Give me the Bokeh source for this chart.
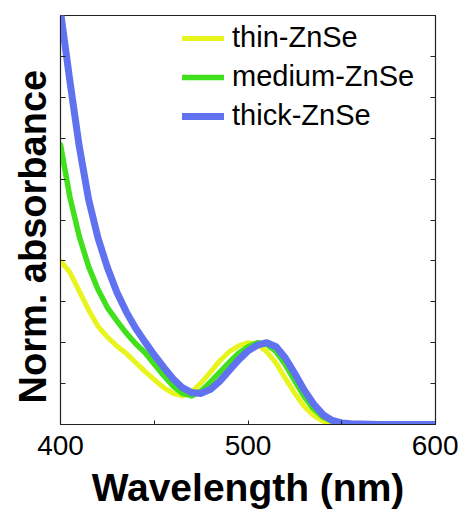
from bokeh.plotting import figure
from bokeh.models import LinearAxis, FixedTicker, Range1d, Legend, LegendItem, Title
from bokeh.embed import file_html
from bokeh.resources import INLINE

wavelength = [400, 405, 410, 415, 420, 425, 430, 435, 440, 445, 450, 455, 460, 465,
              470, 475, 480, 485, 490, 495, 500, 505, 510, 515, 520, 525, 530, 535,
              540, 545, 550, 555, 560, 570, 580, 590, 600]

thin = [2.00, 1.86, 1.63, 1.40, 1.20, 1.07, 0.96, 0.87, 0.76, 0.65, 0.55, 0.45, 0.38, 0.35,
        0.40, 0.51, 0.64, 0.78, 0.89, 0.96, 1.00, 0.98, 0.89, 0.75, 0.56, 0.38, 0.22, 0.11,
        0.04, 0.01, 0.0, 0.0, 0.0, 0.0, 0.0, 0.0, 0.0]

medium = [3.42, 2.78, 2.30, 1.93, 1.65, 1.43, 1.27, 1.12, 0.99, 0.88, 0.74, 0.60, 0.47, 0.38,
          0.35, 0.41, 0.52, 0.64, 0.76, 0.87, 0.95, 1.00, 0.98, 0.89, 0.73, 0.53, 0.34, 0.19,
          0.09, 0.035, 0.01, 0.0, 0.0, 0.0, 0.0, 0.0, 0.0]

thick = [5.05, 4.20, 3.40, 2.75, 2.28, 1.92, 1.62, 1.38, 1.18, 1.01, 0.85, 0.70, 0.56, 0.45,
         0.39, 0.38, 0.43, 0.53, 0.66, 0.79, 0.90, 0.97, 1.00, 0.95, 0.81, 0.62, 0.42, 0.25,
         0.12, 0.05, 0.02, 0.01, 0.005, 0.0, 0.0, 0.0, 0.0]

series_names = ["thin-ZnSe", "medium-ZnSe", "thick-ZnSe"]
x_ticks = [400, 450, 500, 550, 600]
x_tick_labels = {400: "400", 450: "", 500: "500", 550: "", 600: "600"}
y_ticks = [0.5, 1.0, 1.5, 2.0, 2.5, 3.0, 3.5, 4.0, 4.5]
x_title = "Wavelength (nm)"
y_title = "Norm. absorbance"

FONT = "Liberation Sans"

p = figure(width=458, height=505, output_backend="svg", toolbar_location=None,
           x_range=Range1d(400, 600), y_range=Range1d(0, 5.0),
           x_axis_label=x_title,
           min_border_left=60, min_border_right=23, min_border_top=15, min_border_bottom=10)
p.frame_width = 375
p.frame_height = 409

p.grid.visible = False
p.outline_line_color = "#222222"
p.outline_line_width = 1.2
p.background_fill_color = "white"
p.border_fill_color = "white"

cols = ["#e8f51c", "#40e01c", "#6172f0"]
widths = [5, 5.5, 7]
data = [thin, medium, thick]
renderers = []
for d, c, w in zip(data, cols, widths):
    r = p.line(wavelength, d, line_color=c, line_width=w, line_join="round", line_cap="round")
    renderers.append(r)

xa = p.xaxis[0]
xa.ticker = FixedTicker(ticks=x_ticks)
xa.major_label_overrides = x_tick_labels
xa.major_tick_in = 4
xa.major_tick_out = 0
xa.minor_tick_line_color = None
xa.axis_line_color = "#222222"
xa.major_tick_line_color = "#222222"
xa.major_label_text_font = FONT
xa.major_label_text_font_size = "28px"
xa.major_label_text_color = "black"
xa.major_label_standoff = 11
xa.axis_label_text_font = FONT
xa.axis_label_text_font_style = "bold"
xa.axis_label_text_font_size = "39px"
xa.axis_label_text_color = "black"
xa.axis_label_standoff = 8

ya = p.yaxis[0]
ya.ticker = FixedTicker(ticks=y_ticks)
ya.major_label_text_font_size = "0px"
ya.major_label_text_color = None
ya.major_tick_in = 5
ya.major_tick_out = 0
ya.minor_tick_line_color = None
ya.axis_line_color = "#222222"
ya.major_tick_line_color = "#222222"

ra = LinearAxis(ticker=FixedTicker(ticks=y_ticks))
ra.major_label_text_font_size = "0px"
ra.major_label_text_color = None
ra.major_tick_in = 5
ra.major_tick_out = 0
ra.minor_tick_line_color = None
ra.axis_line_color = "#222222"
ra.major_tick_line_color = "#222222"
p.add_layout(ra, "right")

ylab = Title(text=y_title, align="left", offset=21, standoff=14,
             text_font=FONT, text_font_style="bold", text_font_size="38px",
             text_color="black")
p.add_layout(ylab, "left")

legend = Legend(items=[LegendItem(label=n, renderers=[r]) for n, r in zip(series_names, renderers)],
                location=(122, 292))
legend.border_line_color = None
legend.background_fill_alpha = 0
legend.label_text_font = FONT
legend.label_text_font_size = "29px"
legend.label_text_color = "black"
legend.glyph_width = 42
legend.glyph_height = 30
legend.label_height = 30
legend.spacing = 6
legend.label_standoff = 8
legend.margin = 0
legend.padding = 0
p.add_layout(legend, "center")

open("out.html", "w").write(file_html(p, INLINE))
